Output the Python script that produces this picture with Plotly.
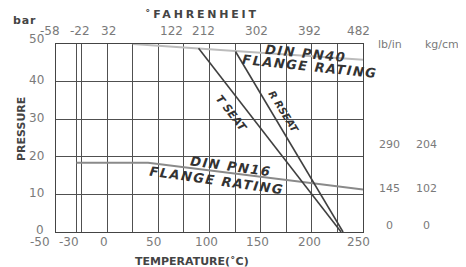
import plotly.graph_objects as go

# ---- data ----
pn40_temp = [25, 250]
pn40_bar = [50, 45.8]
pn16_temp = [-30, 40, 250]
pn16_bar = [18.4, 18.4, 11.3]
tseat_temp = [89.3, 228.6]
tseat_bar = [48.9, 0]
rseat_temp = [125.4, 230.5]
rseat_bar = [48.0, 0]

c_labels = ["-50", "-30", "0", "50", "100", "150", "200", "250"]
f_labels = ["-58", "-22", "32", "122", "212", "302", "392", "482"]
bar_labels = ["50", "40", "30", "20", "10", "0"]
lbin_labels = ["290", "145", "0"]
kgcm_labels = ["204", "102", "0"]

# ---- layout positions (data units) ----
c_label_x = [-66, -37.3, -2.7, 45, 97.1, 147.3, 197.4, 245.6]
f_label_x = [-55.8, -26.6, 1.7, 63, 94.2, 145.8, 197.4, 245.2]
bar_label_y = [51.3, 40.4, 30.3, 20.2, 10.4, 0.5]
right_label_y = [23.4, 11.7, 1.6]

XMIN, XMAX, YMIN, YMAX = -50, 250, 0, 50
GRID = "#505050"
NUMCOL = "#7a7a7a"
FONT = "DejaVu Sans"

# the page body has an 8px margin; the figure is sized so that the
# plot frame lands at the reference's pixel positions
W, H = 458, 259
L, R, T, B = 48, 103, 36, 35
PW, PH = W - L - R, H - T - B

fig = go.Figure()
fig.add_trace(go.Scatter(x=pn40_temp, y=pn40_bar, mode="lines",
                         line=dict(color="#bcbcbc", width=2)))
fig.add_trace(go.Scatter(x=pn16_temp, y=pn16_bar, mode="lines",
                         line=dict(color="#8a8a8a", width=2)))
fig.add_trace(go.Scatter(x=tseat_temp, y=tseat_bar, mode="lines",
                         line=dict(color="#404040", width=1.6)))
fig.add_trace(go.Scatter(x=rseat_temp, y=rseat_bar, mode="lines",
                         line=dict(color="#404040", width=1.6)))

ann = []
def add_paper(text, xp, yp, size=12, color=NUMCOL, bold=False, italic=False,
              angle=0, xanchor="center", spacing=None):
    if spacing:
        text = '<span style="letter-spacing:%.1fpx">%s</span>' % (spacing, text)
    ann.append(dict(text=text, x=xp, y=yp, xref="paper", yref="paper",
                    showarrow=False, xanchor=xanchor, yanchor="middle",
                    textangle=angle,
                    font=dict(family=FONT, size=size, color=color,
                              weight="bold" if bold else "normal",
                              style="italic" if italic else "normal")))

def add_data(text, x, y, **kw):
    add_paper(text, (x - XMIN) / (XMAX - XMIN), (y - YMIN) / (YMAX - YMIN), **kw)

def add_px(text, px, py, **kw):
    # px, py: position in the 466x267 window
    add_paper(text, (px - 8 - L) / PW, (H - B - (py - 8)) / PH, **kw)

for t, x in zip(c_labels, c_label_x):
    add_data(t, x, -2.6, size=12)
for t, x in zip(f_labels, f_label_x):
    add_data(t, x, 53.4, size=12)
for t, y in zip(bar_labels, bar_label_y):
    add_data(t, -59.7, y, size=12, xanchor="right")
add_data("lb/in", 276.3, 50, size=11)
add_data("kg/cm", 327, 50, size=11)
for t, y in zip(lbin_labels, right_label_y):
    add_data(t, 275.5, y, size=11)
for t, y in zip(kgcm_labels, right_label_y):
    add_data(t, 312, y, size=11)

add_px("bar", 24, 20, size=11, color="#444", bold=True, spacing=0.8)
add_px("˚FAHRENHEIT", 202, 14, size=11, color="#444", bold=True, spacing=2.8)
add_px("PRESSURE", 21, 129, size=11, color="#444", bold=True, angle=-90)
add_px("TEMPERATURE(˚C)", 192, 261, size=11, color="#444", bold=True)

add_data("DIN PN40", 194.6, 47.6, size=13, color="#333", bold=True, italic=True, angle=6, spacing=1.5)
add_data("FLANGE RATING", 198.4, 44.1, size=13, color="#333", bold=True, italic=True, angle=6, spacing=1.5)
add_data("DIN PN16", 121.4, 17.3, size=13, color="#333", bold=True, italic=True, angle=8, spacing=1.5)
add_data("FLANGE RATING", 106.9, 13.8, size=13, color="#333", bold=True, italic=True, angle=8, spacing=1.5)
add_data("T SEAT", 121.4, 31.6, size=11, color="#333", bold=True, italic=True, angle=52)
add_data("R RSEAT", 173, 31.9, size=10, color="#333", bold=True, italic=True, angle=58)

x_grid = [-50, -30, -25, 0, 25, 50, 75, 100, 125, 150, 175, 200, 225, 250]
fig.update_layout(
    width=W, height=H, margin=dict(l=L, r=R, t=T, b=B),
    paper_bgcolor="white", plot_bgcolor="white", showlegend=False,
    annotations=ann,
    xaxis=dict(range=[XMIN, XMAX], tickmode="array", tickvals=x_grid,
               showticklabels=False, ticks="", showgrid=True, gridcolor=GRID,
               gridwidth=1.2, zeroline=False, showline=True, linecolor="#444",
               linewidth=1.4, mirror=True),
    yaxis=dict(range=[YMIN, YMAX], tickmode="array", tickvals=[0, 10, 20, 30, 40, 50],
               showticklabels=False, ticks="", showgrid=True, gridcolor=GRID,
               gridwidth=1.2, zeroline=False, showline=True, linecolor="#444",
               linewidth=1.4, mirror=True),
)
fig.write_html("out.html")
